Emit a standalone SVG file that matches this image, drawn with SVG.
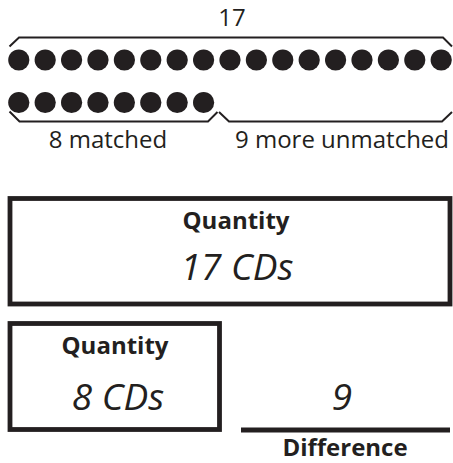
<svg xmlns="http://www.w3.org/2000/svg" width="453" height="463" viewBox="0 0 453 463">
  <style>
    text { font-family: "Open Sans", "Noto Sans", sans-serif; fill: #231f20; text-anchor: middle; }
    .lbl { font-size: 24px; }
    .head { font-size: 24px; font-weight: bold; }
    .val { font-size: 37px; font-style: italic; }
    .brace { fill: none; stroke: #231f20; stroke-width: 2; stroke-linejoin: miter; }
    .box { fill: #ffffff; stroke: #231f20; stroke-width: 4.8; }
    .dot { fill: #231f20; }
  </style>
  <defs>
    <circle id="cd" r="10.6" class="dot"/>
  </defs>

  <!-- total count above the full row -->
  <g id="total-label">
    <text class="lbl" x="232" y="26">17</text>
  </g>

  <!-- brackets around the rows -->
  <g id="connectors">
    <path class="brace" d="M9.5,46.5 L19,37.5 H443 L452,46.5"/>
    <path class="brace" d="M9.5,111.5 L19.5,121.5 H208 L217.5,112"/>
    <path class="brace" d="M219,112 L229,121.5 H442 L452,112"/>
  </g>

  <!-- row of 17 -->
  <g id="row-17">
    <use href="#cd" x="18.8" y="60"/>
    <use href="#cd" x="45.2" y="60"/>
    <use href="#cd" x="71.6" y="60"/>
    <use href="#cd" x="98" y="60"/>
    <use href="#cd" x="124.4" y="60"/>
    <use href="#cd" x="150.8" y="60"/>
    <use href="#cd" x="177.2" y="60"/>
    <use href="#cd" x="203.6" y="60"/>
    <use href="#cd" x="230" y="60"/>
    <use href="#cd" x="256.4" y="60"/>
    <use href="#cd" x="282.8" y="60"/>
    <use href="#cd" x="309.2" y="60"/>
    <use href="#cd" x="335.6" y="60"/>
    <use href="#cd" x="362" y="60"/>
    <use href="#cd" x="388.4" y="60"/>
    <use href="#cd" x="414.8" y="60"/>
    <use href="#cd" x="441.2" y="60"/>
  </g>

  <!-- row of 8 -->
  <g id="row-8">
    <use href="#cd" x="18.8" y="102.5"/>
    <use href="#cd" x="45.2" y="102.5"/>
    <use href="#cd" x="71.6" y="102.5"/>
    <use href="#cd" x="98" y="102.5"/>
    <use href="#cd" x="124.4" y="102.5"/>
    <use href="#cd" x="150.8" y="102.5"/>
    <use href="#cd" x="177.2" y="102.5"/>
    <use href="#cd" x="203.6" y="102.5"/>
  </g>

  <g id="matched-label">
    <text class="lbl" x="108" y="148">8 matched</text>
  </g>
  <g id="unmatched-label">
    <text class="lbl" x="342" y="148">9 more unmatched</text>
  </g>

  <!-- quantity boxes -->
  <g id="box-17">
    <rect class="box" x="10" y="198.5" width="440" height="105.5"/>
    <text class="head" x="236" y="229">Quantity</text>
    <text class="val" x="237" y="280">17 CDs</text>
  </g>

  <g id="box-8">
    <rect class="box" x="10" y="323.5" width="209.5" height="106"/>
    <text class="head" x="115" y="354">Quantity</text>
    <text class="val" x="118" y="410">8 CDs</text>
  </g>

  <!-- difference -->
  <g id="difference">
    <text class="val" x="342" y="410">9</text>
    <line x1="241" y1="430" x2="450" y2="430" stroke="#231f20" stroke-width="4.8"/>
    <text class="head" x="345" y="456">Difference</text>
  </g>
</svg>
